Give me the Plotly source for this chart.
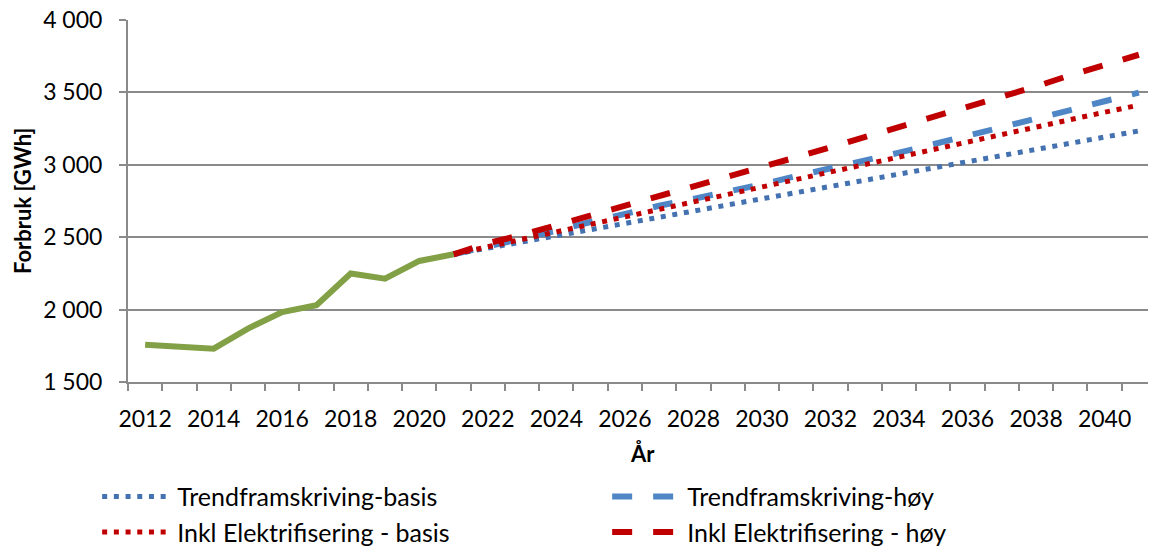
import plotly.graph_objects as go

# historisk forbruk
aar_hist = [2012, 2013, 2014, 2015, 2016, 2017, 2018, 2019, 2020, 2021]
forbruk_hist = [1758, 1746, 1730, 1869, 1983, 2030, 2249, 2214, 2336, 2382]

# framskrivinger 2021-2041
aar_fram = [2021, 2022, 2023, 2024, 2025, 2026, 2027, 2028, 2029, 2030, 2031,
            2032, 2033, 2034, 2035, 2036, 2037, 2038, 2039, 2040, 2041]
trend_basis = [2382, 2425, 2467, 2510, 2553, 2595, 2638, 2680, 2723, 2766, 2808,
               2851, 2893, 2936, 2979, 3021, 3064, 3106, 3149, 3192, 3234]
trend_hoy = [2382, 2435, 2490, 2545, 2605, 2663, 2717, 2765, 2813, 2865, 2922,
             2974, 3027, 3084, 3142, 3199, 3258, 3321, 3378, 3439, 3498]
elektr_basis = [2382, 2434, 2487, 2540, 2592, 2644, 2696, 2747, 2799, 2851, 2901,
                2952, 3003, 3055, 3106, 3158, 3209, 3261, 3312, 3363, 3412]
elektr_hoy = [2382, 2459, 2516, 2582, 2648, 2716, 2780, 2845, 2914, 2983, 3052,
              3121, 3190, 3257, 3329, 3403, 3473, 3541, 3619, 3688, 3760]

x_ticks = [2012, 2014, 2016, 2018, 2020, 2022, 2024, 2026, 2028, 2030,
           2032, 2034, 2036, 2038, 2040]
y_ticks = [1500, 2000, 2500, 3000, 3500, 4000]
y_ticktext = ["1 500", "2 000", "2 500", "3 000", "3 500", "4 000"]

FONT = "Lato"
GRID = "#8a8a8a"
BLUE_DOT = "#4472b0"
BLUE_DASH = "#4f86c6"
RED = "#c00000"
GREEN = "#82a046"

fig = go.Figure()

fig.add_trace(go.Scatter(
    x=aar_fram, y=trend_basis, name="Trendframskriving-basis",
    mode="lines", line=dict(color=BLUE_DOT, width=5, dash="5px,6.7px"),
))
fig.add_trace(go.Scatter(
    x=aar_fram, y=trend_hoy, name="Trendframskriving-høy",
    mode="lines", line=dict(color=BLUE_DASH, width=6, dash="20px,21px"),
))
fig.add_trace(go.Scatter(
    x=aar_fram, y=elektr_basis, name="Inkl Elektrifisering - basis",
    mode="lines", line=dict(color=RED, width=5, dash="5px,6.7px"),
))
fig.add_trace(go.Scatter(
    x=aar_fram, y=elektr_hoy, name="Inkl Elektrifisering - høy",
    mode="lines", line=dict(color=RED, width=6, dash="20px,21px"),
))
fig.add_trace(go.Scatter(
    x=aar_hist, y=forbruk_hist, name="Historisk",
    mode="lines", line=dict(color=GREEN, width=6), showlegend=False,
))

fig.update_xaxes(
    range=[2011.5, 2041.5],
    tickvals=x_ticks,
    ticktext=[str(v) for v in x_ticks],
    ticks="", ticklabelstandoff=15,
    showgrid=False,
    showline=True, linecolor=GRID, linewidth=2,
    tickfont=dict(family=FONT, size=23, color="#000000"),
    minor=dict(ticks="outside", ticklen=7, tickwidth=2, tickcolor=GRID,
               dtick=1, tick0=2011.5, showgrid=False),
)
fig.update_yaxes(
    range=[1500, 4000],
    tickvals=y_ticks,
    ticktext=y_ticktext,
    ticks="outside", ticklen=7, tickwidth=2, tickcolor=GRID,
    ticklabelstandoff=12, ticklabeloverflow="allow",
    showgrid=True, gridcolor=GRID, gridwidth=2,
    showline=True, linecolor=GRID, linewidth=2,
    zeroline=False,
    tickfont=dict(family=FONT, size=23, color="#000000"),
)

# aksetitler
fig.add_annotation(
    text="<b>Forbruk [GWh]</b>", textangle=-90,
    xref="paper", yref="paper", x=0, y=0.5,
    xanchor="center", yanchor="middle",
    xshift=-106, showarrow=False,
    font=dict(family=FONT, size=22, color="#000000"),
)
fig.add_annotation(
    text="<b>År</b>",
    xref="paper", yref="paper", x=0.5, y=0,
    xanchor="center", yanchor="middle",
    yshift=-71, showarrow=False,
    font=dict(family=FONT, size=22, color="#000000"),
)

# siden har 8px marg rundt figuren
fig.update_layout(
    width=1148, height=544,
    margin=dict(l=120, r=0, t=12, b=170, autoexpand=False),
    plot_bgcolor="white", paper_bgcolor="white",
    font=dict(family=FONT, color="#000000"),
    legend=dict(
        orientation="h", x=-0.030, xanchor="left", y=-0.2534, yanchor="top",
        entrywidth=425, itemwidth=70,
        font=dict(family=FONT, size=25, color="#000000"),
        tracegroupgap=0,
    ),
)

fig.write_html("out.html")
